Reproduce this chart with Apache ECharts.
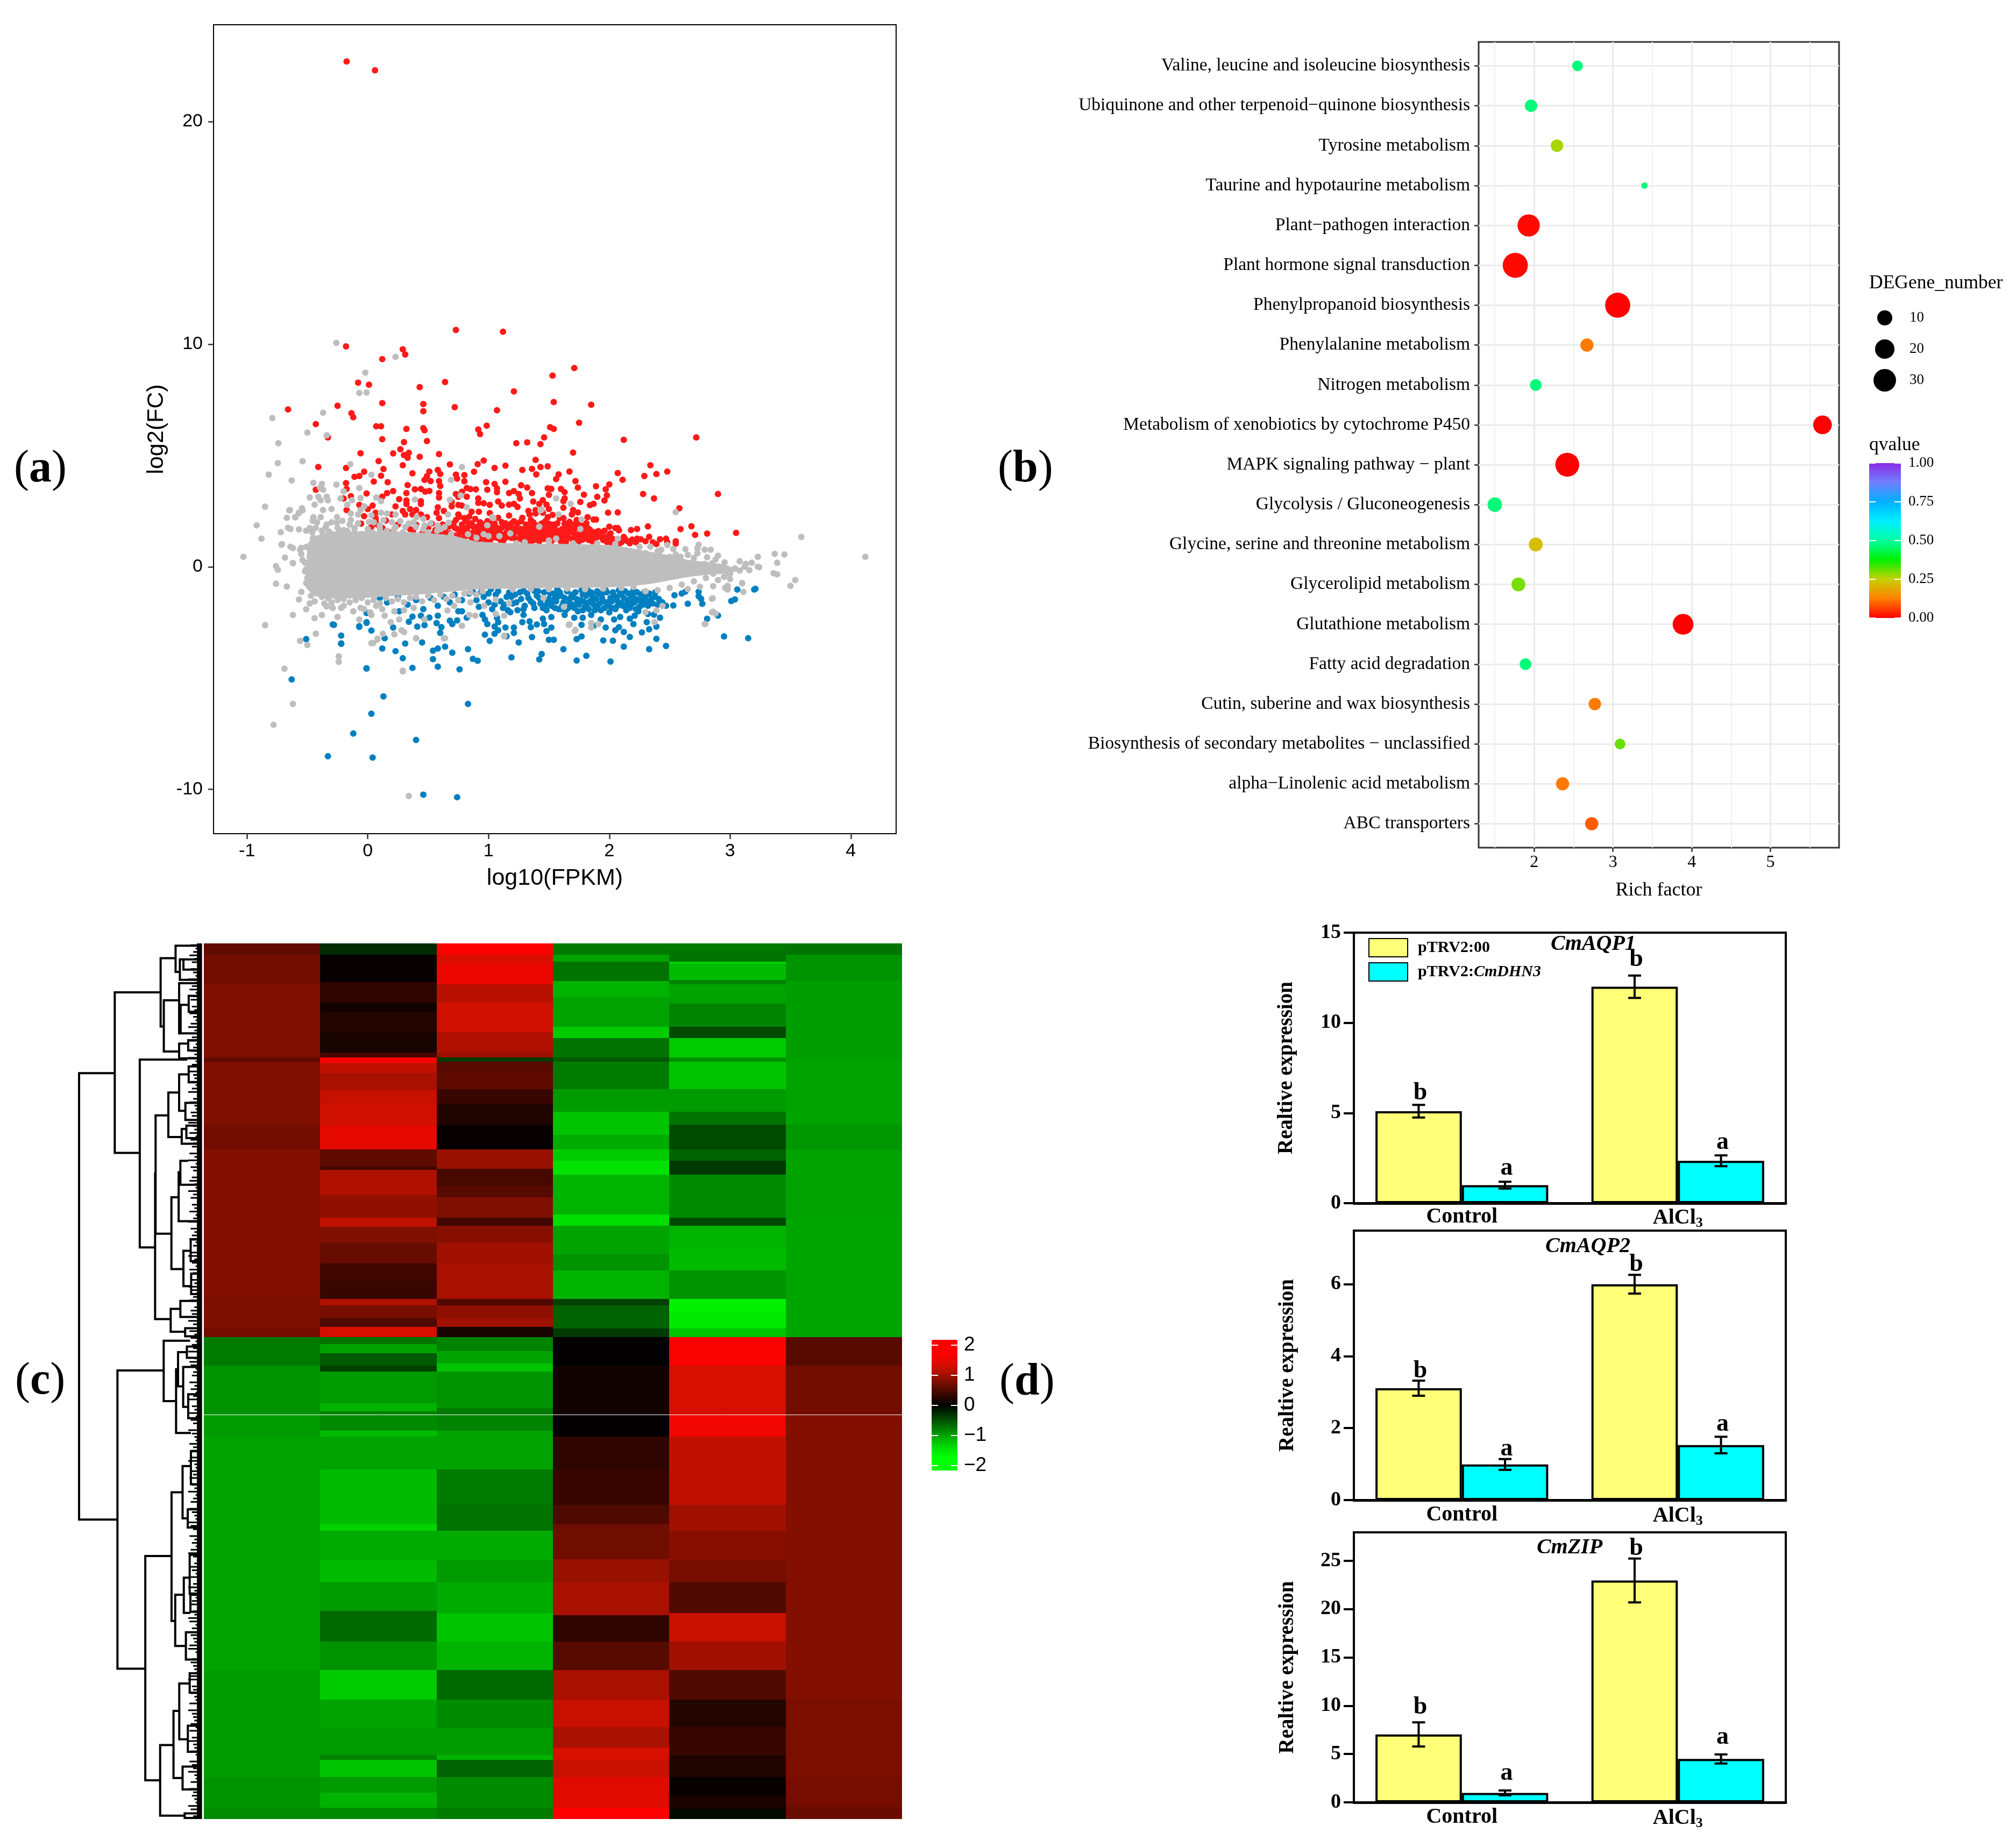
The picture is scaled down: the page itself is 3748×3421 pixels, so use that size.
<!DOCTYPE html>
<html>
<head>
<meta charset="utf-8">
<style>
  html, body { margin: 0; background: #fff; }
  #main { width: 3748px; height: 3421px; }
</style>
<script src="https://cdn.jsdelivr.net/npm/echarts@6/dist/echarts.min.js"></script>
</head>
<body>
<div id="main"></div>
<script>
// ---- panel a: MA plot, [log10(FPKM), log2(FC)]
const maRed = [[-.175,22.7],[.06,22.3],[.73,10.64],[1.12,10.56],[-.18,9.9],[.29,9.77],[.31,9.54],[.12,9.33],[1.71,8.93],[1.53,8.59],
  [-.08,8.27],[.01,8.18],[.43,8.07],[.64,8.3],[1.21,7.88],[.12,7.35],[-.25,7.23],[-.66,7.07],[.46,7.31],[.46,6.99],[.72,7.17],[1.07,7.03],[-.135,6.9],[-.12,6.72],[-.43,6.41],[.07,6.31],[.11,6.31],[.32,6.19],[.46,6.23],[.47,6.13],[.985,6.34],[.915,6.17],[.93,5.96],[-.33,5.81],[.12,5.73],[.49,5.65],[.3,5.6],[1.23,5.55],[1.32,5.59],[.27,5.28],[-.06,5.1],[.21,5.09],[.34,5.12],[.3,5.02],[.33,4.9],[.43,4.94],[.59,5.06],[.09,4.75],[.29,4.56],[.68,4.6],[.96,4.77],[.91,4.61],[-.41,4.48],[-.18,4.44],[.13,4.39],[1.05,4.44],[1.14,4.54],[1.28,4.35],[1.36,4.4],[1.39,4.8],[1.395,4.15],[-.03,4.27],[-.11,4.04],[-.07,4.08],[.11,4.09],[.05,3.83],[.165,3.8],[.37,4.2],[.51,4.28],[.58,4.35],[.6,4.17],[.49,4.07],[.47,3.9],[.52,3.85],[.59,3.85],[.73,4.14],[.74,3.96],[.8,4.12],[.8,3.84],[.88,4.27],[.6,3.63],[.98,3.8],[1.05,3.72],[1.14,3.82],[1.27,3.66],[1.32,3.56],[-.18,3.76],[-.175,3.5],[-.43,3.46],[-.01,3.29],[.16,3.31],[.21,3.4],[.33,3.67],[.39,3.48],[.44,3.5],[.475,3.38],[.51,3.41],[.32,3.31],[.59,3.31],[.59,3.11],[.82,3.54],[.85,3.49],[.895,3.48],[.99,3.46],[1.07,3.52],[1.07,3.35],[.78,3.37],[.73,3.27],[.75,3.14],[.82,3.15],[1.17,3.31],[1.21,3.4],[1.25,3.27],[1.36,3.31],[1.26,3.07],[-.2,3.07],[-.14,3.17],[.12,3.15],[.26,3.04],[.32,2.98],[.44,2.95],[.44,2.82],[.23,2.71],[.32,2.82],[.915,3.07],[.915,2.87],[.96,2.85],[1.01,2.78],[1.08,2.93],[1.37,2.93],[1.11,2.75],[1.17,2.79],[1.21,2.83],[1.24,2.69],[-.07,2.78],[.04,2.75],[0,2.59],[-.175,2.55],[.065,2.43],[.29,2.51],[.35,2.59],[.4,2.55],[.58,2.67],[.57,2.43],[.695,2.91],[.695,2.71],[.75,2.78],[.78,2.75],[.86,2.47],[.92,2.47],[1.01,2.41],[1.33,2.51],[1.39,2.55],[1.39,2.39],[-.03,2.27],[.065,2.19],[.065,2.09],[.15,2.08],[.2,2.35],[.31,2.35],[.37,2.35],[.44,2.35],[.49,2.23],[.63,2.51],[.59,2.19],[.53,1.94],[.75,2.35],[.8,2.19],
  [.17,1.58],[.29,1.46],[.375,1.62],[.53,1.46],[.03,1.8],[-.055,1.94],[.6,1.55],[.64,1.7],[.68,1.5],[.56,1.65],[.4,1.9],[.45,1.5],[.5,1.75],[.55,1.5],[.62,1.9],[.65,1.5],[.67,1.8],[.35,1.7],[.25,1.9],[.12,1.75],[.08,1.9],
  [.71,1.95],[.73,2.1],[.74,1.7],[.76,2.25],[.78,1.9],[.79,1.55],[.81,2.05],[.82,1.75],[.84,2.25],[.85,1.45],[.86,1.95],[.88,1.6],[.89,2.15],[.9,1.3],[.91,1.8],[.93,2],[.94,1.5],[.96,1.75],[.97,1.2],[.99,2.05],[1,1.55],[1.02,1.8],[1.03,1.3],[1.05,1.95],[1.06,1.6],[1.08,2.2],[1.09,1.4],[1.11,1.75],[1.12,1.15],[1.14,1.95],[1.15,1.55],[1.17,2.3],[1.18,1.8],[1.19,1.3],[1.21,2.05],[1.22,1.6],[1.24,1.95],[1.25,1.25],[1.27,1.7],[1.28,2.2],[1.3,1.5],[1.31,1.9],[1.33,1.2],[1.34,2.35],[1.36,1.7],[1.37,2],[1.39,1.4],[1.4,1.85],[.72,1.4],[.8,1.3],[.87,1.15],[.95,1.4],[1.01,1.15],[1.1,1.2],[1.16,1.35],[1.23,1.2],[1.29,1.15],[1.35,1.4],
  [.72,1.75],[.75,1.35],[.77,1.65],[.83,1.55],[.85,1.85],[.9,1.6],[.92,1.2],[.98,1.55],[1.04,1.55],[1.07,1.3],[1.13,1.45],[1.16,1.75],[1.2,1.55],[1.26,1.5],[1.32,1.6],[1.34,1.9],[1.38,1.2],[1.42,1.15],[1.44,1.65],[1.46,1.25],[1.48,1.95],[1.5,1.45],[1.52,1.15],[1.55,1.7],[1.57,1.45],[1.6,1.15],[1.62,1.45],[1.65,1.75],[1.66,1.3],[1.68,1.55],[1.71,1.7],[1.72,1.35],[1.76,1.55],[1.78,1.42],[1.8,1.62],[1.83,1.2],[1.85,1.5],[1.88,1.55],[1.92,1.45],[1.95,1.2],[1.98,1.12],[2.03,1.25],[2.05,1.15],[2.1,1.1],[2.15,1.15],[2.22,1.1],[2.3,1.15],[2.36,1.1],[2.48,1.1],
  [.74,1.25],[.76,1.5],[.78,1.2],[.8,1.7],[.82,1.4],[.84,1.95],[.86,1.3],[.88,1.8],[.91,1.45],[.93,1.7],[.95,1.9],[.97,1.5],[.99,1.3],[1.01,1.7],[1.03,1.95],[1.05,1.4],[1.07,1.75],[1.09,1.55],[1.11,2.0],[1.13,1.25],[1.15,1.85],[1.17,1.5],[1.19,1.95],[1.21,1.35],[1.23,1.75],[1.25,1.55],[1.27,2.05],[1.29,1.35],[1.31,1.7],[1.33,1.45],[1.35,2.1],[1.37,1.55],[1.39,1.8],[1.41,1.3],[1.43,1.75],[1.45,1.5],[1.47,2.05],[1.49,1.6],[1.51,1.3],[1.53,1.8],[1.55,1.25],[1.57,1.95],[1.59,1.5],[1.61,1.3],[1.63,1.65],[1.65,1.4],[1.67,1.85],[1.69,1.25],[1.71,1.5],[1.73,1.75],[1.75,1.15],[1.77,1.85],[1.8,1.3],[1.82,1.75],[1.84,1.4],[1.87,1.25],[1.9,1.4],[1.94,1.5],[1.97,1.3],[2,1.2],
  [1.54,7.4],[1.85,7.28],[1.75,6.47],[1.51,6.27],[1.54,6.19],[1.46,5.81],[1.43,5.51],[2.12,5.7],[2.72,5.81],[1.7,5.13],[2.34,4.56],[1.49,4.51],[1.43,4.48],[1.67,4.28],[1.58,4.15],[1.56,3.94],[2.07,4.21],[2.11,3.91],[2.29,4.08],[2.39,4.17],[2.48,4.28],[1.72,3.85],[1.74,3.56],[1.89,3.62],[2,3.7],[1.97,3.48],[1.49,3.52],[1.52,3.5],[1.6,3.5],[1.63,3.35],[1.79,3.24],[1.98,3.21],[1.9,3.14],[1.96,2.98],[2.28,3.27],[2.37,3.07],[2.9,3.27],[1.5,3.23],[1.63,3.07],[1.62,2.95],[1.76,2.91],[1.87,2.83],[1.84,2.77],[1.45,2.99],[1.42,2.82],[1.48,2.79],[1.5,2.59],[1.62,2.65],[2.58,2.63],[1.7,2.55],[1.69,2.35],[1.74,2.44],[1.99,2.43],[2.07,2.44],[1.53,2.33],[1.45,2.43],[1.49,2.23],[1.59,2.19],[1.62,2.19],[1.82,2.23],[1.87,2.12],[1.89,2.12],[1.81,1.96],[1.67,2.02],[1.73,2.1],[1.54,1.9],[1.5,1.94],[1.44,1.94],[1.63,1.94],[1.7,1.9],[1.74,1.9],[2,1.8],[2.05,1.74],[2.07,1.74],[2.08,1.64],[1.96,1.62],[1.91,1.6],[1.84,1.66],[1.79,1.7],[2.18,1.65],[2.23,1.7],[2.32,1.81],[2.59,1.69],[2.68,1.82],[2.71,1.43],[2.81,1.49],[3.05,1.52],[1.34,1.64],[2.01,1.5],[1.99,1.38],[1.93,1.34],[1.89,1.3],[1.82,1.38],[1.75,1.34],[1.7,1.14],[1.78,1.22],[1.64,1.1],[1.58,1.26],[1.53,1.46],[1.47,1.46],[1.42,1.42],[1.37,1.38],[1.35,1.1],[2.12,1.34],[2.13,1.26],[2.19,1.22],[2.23,1.26],[2.26,1.23],[2.33,1.35],[2.42,1.24],[2.47,1.26],[2.55,1.14],[2.55,1.04],[2.39,1.02],[2.17,1.06],[2.08,1.02],[2.01,1.1],[1.86,1.14],[1.61,1.7],[1.67,1.62],[1.58,1.62],[1.51,1.7],[1.47,1.7],[1.41,1.62]];
const maBlue = [[-.63,-5.06],[.13,-5.82],[.83,-6.16],[.03,-6.6],[-.12,-7.49],[.4,-7.78],[-.33,-8.51],[.04,-8.57],[.46,-10.24],[.74,-10.35],[-.01,-4.56],[-.51,-3.25],[-.22,-3.09],[-.22,-3.46],[-.29,-2.59],[-.07,-2.67],[-.01,-2.49],[3.2,-1.02],[3.06,-1.02],[3.04,-1.47],
  [3.21,-.99],[2.74,-1.12],[2.63,-1.12],[2.6,-1.2],[2.54,-1.28],[2.74,-1.32],[2.76,-1.44],[2.77,-1.66],[2.65,-1.66],[2.53,-1.74],[3.01,-1.54],[2.9,-2.19],[2.81,-2.34],[2.95,-3.13],[3.15,-3.21],[2.42,-2.29],[2.39,-2.69],[2.33,-2.81],[2.27,-2.95],[2.39,-3.24],[2.47,-3.56],[2.33,-3.7],[2.12,-3.59],[2.01,-4.26],[1.81,-4],[1.73,-4.21],[2.03,-3.32],[1.95,-3.31],[2.17,-3.15],[2.12,-2.93],[2.08,-2.71],[2.05,-2.85],[1.77,-3.13],[1.73,-3.25],[1.62,-3.7],[1.54,-3.28],[1.5,-3.28],[1.44,-3.92],[1.42,-4.16],[1.36,-3.16],[1.25,-3.4],[1.19,-4.07],[1.01,-3.33],[.97,-3.05],[1.05,-3.01],[1.08,-2.85],[1.15,-3.12],[1.21,-2.97],[1.14,-2.73],[1.21,-2.73],[1.4,-2.59],[1.35,-2.71],[1.48,-2.89],[1.52,-2.73],[1.77,-2.61],[1.87,-2.65],[1.97,-2.73],[.91,-4.22],[.87,-4.14],[.83,-3.7],[.76,-4.61],[.7,-3.86],[.64,-3.59],[.58,-3.67],[.54,-3.77],[.54,-4.15],[.58,-4.49],[.37,-4.54],[.29,-4.11],[.23,-3.79],[.12,-3.67],[-.01,-4.57],[.31,-3.45],[.45,-3.4],[.14,-3.21],[-.22,-3.44],[.03,-2.86],[-.07,-2.7],[-.01,-2.52],[.21,-2.73],[.41,-2.69],[.47,-2.62],[.6,-2.97],[.61,-2.71],[-.28,-2.61],[-.01,-2.08],[.26,-2],[.34,-2.47],[.37,-2.24],[.44,-2.2],[.51,-2.28],[.58,-2.2],[.57,-2.53],[.68,-2.42],[.7,-2.57],[.74,-2.41],[.82,-2.28],[.75,-2],[.78,-2],[.95,-2.16],[.97,-2.37],[.99,-2.57],[1.08,-2.49],[1.05,-2.69],[1.07,-2.29],[1.18,-2.04],[1.29,-2.16],[1.28,-2.49],[1.34,-2.45],[1.45,-2.33],[1.46,-2.57],[1.52,-2.26],[1.63,-2.16],[1.71,-2.29],[1.78,-2.29],[1.85,-2.16],[1.93,-2.37],[2.04,-2.37],[2.09,-2.25],[2.17,-2.33],[2.2,-2.57],[2.21,-2.2],[2.31,-2.49],[2.32,-2.12],[2.37,-2.15],
  [.1,-1.4],[.16,-1.6],[.25,-1.35],[.33,-1.7],[.4,-1.5],[.46,-1.9],[.52,-1.4],[.58,-1.75],[.63,-1.35],[.68,-1.6],[.72,-1.25],[.78,-1.5],[.84,-1.2],
  [.87,-1.12],[.94,-1.12],[1.02,-1],[1.17,-1.16],[1.29,-1.08],[1.38,-1.08],[1.49,-1.08],[1.57,-1],[.9,-1.5],[.92,-1.8],[.96,-1.35],[1,-1.6],[1.03,-1.9],[1.06,-1.25],[1.1,-1.55],[1.12,-1.85],[1.15,-1.35],[1.2,-1.65],[1.22,-1.25],[1.24,-1.95],[1.27,-1.45],[1.3,-1.75],[1.32,-1.2],[1.35,-1.55],[1.38,-1.85],[1.4,-1.3],[1.43,-1.65],[1.46,-1.15],[1.48,-1.95],[1.5,-1.45],[1.52,-1.75],[1.54,-1.2],[1.56,-1.55],[1.58,-1.9],[1.6,-1.3],[1.62,-1.6],[1.65,-1.1],[1.66,-1.85],[1.68,-1.4],[1.7,-1.7],[1.72,-1.15],[1.74,-2],[1.76,-1.5],[1.78,-1.25],[1.8,-1.8],[1.82,-1.05],[1.84,-1.55],[1.86,-1.3],[1.88,-1.95],[1.9,-1.1],[1.92,-1.65],[1.94,-1.4],[1.96,-1.85],[1.98,-1.15],[2,-2.05],[2.02,-1.55],[2.04,-1.3],[2.06,-1.8],[2.08,-1.05],[2.1,-1.65],[2.12,-1.4],[2.14,-1.95],[2.16,-1.2],[2.18,-1.7],[2.2,-1.05],[2.22,-1.45],[2.24,-2],[2.26,-1.25],[2.28,-1.7],[2.3,-1.5],[2.33,-1.2],[2.36,-1.65],[2.38,-1.35],[2.41,-1.45],[2.44,-1.6],[2.47,-1.75],
  [1,-1.2],[1.05,-1.7],[1.08,-1.1],[1.13,-1.7],[1.16,-1.95],[1.19,-1.35],[1.23,-1.6],[1.26,-1.15],[1.29,-1.9],[1.33,-1.4],[1.37,-1.65],[1.41,-1.1],[1.44,-1.45],[1.47,-1.75],[1.51,-1.2],[1.53,-1.55],[1.55,-1.85],[1.57,-1.35],[1.59,-1.15],[1.61,-1.75],[1.63,-1.4],[1.64,-1.95],[1.67,-1.6],[1.69,-1.25],[1.71,-1.85],[1.73,-1.45],[1.75,-1.7],[1.77,-1.05],[1.79,-1.55],[1.81,-1.3],[1.83,-1.9],[1.85,-1.15],[1.87,-1.7],[1.89,-1.45],[1.91,-1.2],[1.93,-1.95],[1.95,-1.55],[1.97,-1.05],[1.99,-1.75],[2.01,-1.4],[2.03,-1.15],[2.05,-1.9],[2.07,-1.55],[2.09,-1.25],[2.11,-1.75],[2.13,-1.1],[2.15,-1.5],[2.17,-1.85],[2.19,-1.3],[2.21,-1.6],[2.23,-1.15],[2.25,-1.8],[2.27,-1.4],[2.29,-1.15],[2.32,-1.75],[2.35,-1.4],[2.38,-1.15],[2.4,-1.7],
  [1.42,-1.4],[1.45,-1.85],[1.49,-1.6],[1.55,-1.4],[1.6,-1.9],[1.65,-1.5],[1.7,-1.35],[1.74,-1.6],[1.78,-1.95],[1.82,-1.65],[1.86,-1.45],[1.9,-1.8],[1.94,-1.2],[1.98,-1.6],[2.02,-1.85],[2.06,-1.4],[2.1,-1.2],[2.14,-1.7],[2.18,-1.45],[2.22,-1.9],[2.26,-1.55],[2.3,-1.3],[2.34,-1.55]];
const maGray = [[-.26,10.06],[.23,9.43],[-.02,8.72],[-.07,7.81],[-.01,7.83],[-.79,6.68],[-.37,6.92],[-.5,6.03],[-.34,5.91],[-.74,5.55],[-.745,4.66],[-.54,4.74],[-.82,4.14],[-.145,4.61],[.78,4.48],[-.63,3.88],[-.85,2.7],[-.26,3.69],[-.45,3.77],[-.38,3.72],[.03,4.13],[.69,3.9],[-.92,1.86],[-.88,1.26],[-1.03,.45],[-.72,1.55],[-.715,.99],[-.76,.03],[-.745,-.13],[-.76,-.76],[-.67,-.89],[-.62,.16],[-.65,2.54],[-.67,2.2],[-.6,2.22],[-.57,2.41],[-.54,2.54],[-.66,1.75],[-.57,1.68],[-.51,1.62],[-.62,.84],[-.56,.76],[-.51,.89],[-.52,.18],[-.49,-.34],[-.51,-.73],[-.55,-1.13],[-.57,-1.47],[-.62,-2.17],[-.51,-1.91],[-.44,-2.31],[-.38,-2.17],[-.34,-1.78],[-.85,-2.62],[-.56,-3.33],[-.5,-3.51],[-.43,-3.01],[-.24,-4.03],[-.24,-4.27],[-.69,-4.58],[-.62,-6.16],[-.78,-7.1],[.34,-10.3],[.03,-3.43],[.08,-3.27],[.29,-4.66],[.63,-3.22],[1.13,-3.09],[.4,-3.22],[1.72,-2.83],[1.67,-2.59],[2.79,-2.57],[2.85,-2.04],[2.88,-2.1],[2.85,-1.44],[2.98,-.86],[3.1,-.73],[3.23,0],[3.23,.45],[3.13,.13],[3.18,.18],[3.37,.58],[3.45,.55],[3.39,.18],[3.36,-.29],[3.39,-.34],[3.54,-.6],[3.5,-.86],[3.59,1.34],[4.12,.45],[2.55,2.46],[1.68,2.83],[1.56,3.07],[1.43,2.54],[1.03,2.23],[.77,3.2],
  [.39,3.02],[.68,3.01],[.82,2.67],[-.48,3.11],[-.395,3.56],[-.37,3.46],[-.41,3.15],[-.39,2.99],[-.34,3.15],[-.33,2.99],[-.44,2.79],[-.37,2.55],[-.3,2.6],[-.645,2.55],[-.545,2.63],[-.57,2.43],[-.6,2.23],[-.45,2.23],[-.39,2.23],[-.455,2.06],[-.34,1.9],[-.255,2.23],[-.21,2.06],[-.255,1.98],[-.48,1.74],[-.64,1.7],[-.38,1.62],[-.32,1.58],[-.225,3.07],[-.13,2.99],[-.17,2.79],[-.2,3.39],[-.07,3.54],[-.06,3.09],[.07,3.11],[.11,2.95],[-.03,2.71],[-.06,2.55],[-.14,2.39],[-.14,2.1],[-.08,2.35],[.03,2.31],[.11,2.43],[.16,2.39],[.23,2.35],[.405,2.23],[.46,2.15],[.34,1.94],[.665,2.35],[.67,1.98],[1.04,2.19],[.99,1.86],[.605,1.7],[.46,1.7],[-.11,1.74],[.01,2.02],[.1,1.86],[.22,1.7],[.31,1.78],[-.455,1.26],[-.71,1.02],[-.64,.9],[-.55,.85],[-.5,.9],[-.55,.57],[-.62,.17],[-.685,.41],[-.48,.41],[-.5,.17],
  [-.25,-2.25],[-.07,-2.37],[.03,-2.17],[.14,-2.2],[.19,-2.49],[.26,-2.37],[.28,-2.85],[.3,-2.93],[.22,-3.03],[.125,-3.01],[.08,-3.23],[.045,-3.43],[.4,-3.21],[.64,-3.21],[.78,-2.65],[1.13,-3.13],[.29,-4.7],[.89,-2.2],[.84,-2.17],[1.13,-2.2],[1.06,-2.12],[1.665,-2.61],[1.715,-2.88],[1.85,-2.53],[1.85,-2.73],[1.91,-2.57],[2.375,-2.49],[2.39,-1.96],[2.44,-1.76],[2.3,-2.04],[2.855,-1.42],[2.86,-2.02],[2.795,-2.57],[2.86,-.87],[2.96,-.94],[2.98,-1.02],[3.1,-.75],[3.11,-1.13],[1.625,-1.8],[1.455,-1.4],[1.17,-1.64],[-.22,-1.84],[-.06,-1.84],[.07,-1.76],[.47,-2.37],[.66,-1.96],[.85,-1.6],[.715,-1.76],[1.06,-1.48],[.965,-1.76],
  [2.48,.98],[2.53,.8],[2.63,.79],[2.74,.99],[2.73,.83],[2.79,.77],[2.84,.77],[2.73,.61],[2.81,.43],[2.88,.33],[2.955,.2],[3.24,-.02],[3.04,-.07],[3.08,-.17],[3.16,-.15],[2.99,-.31],[2.93,-.03],[2.86,-.31],[2.79,.13],[2.59,.45],[2.65,.53],[2.43,.77],[2.34,.9],[2.3,.61],[2.41,.61],[2.5,.45],[1.44,2.57],[1.58,2.35],[1.77,2.12],[1.42,1.8],[1.76,1.7],[2.07,1.26],[1.5,1.18],[1.56,1.27],
  [-.45,1.3],[-.41,.81],[-.34,1.3],[-.37,1.46],[-.37,1.18],[-.285,1.46],[-.24,1.54],[-.17,1.62],[-.11,1.7],[-.05,1.46],[.04,1.54],[.1,1.7],[.16,1.62],[.23,1.78],[.29,1.54],[.34,1.94],[.4,1.78],[.47,1.86],[.5,1.54],[.575,1.62],[.635,1.78],[.69,1.46],[.83,1.46],[.9,1.3],[.96,1.46],[1,1.38],[1.09,1.38],[1.18,1.5],[1.23,1.06],
  [-.48,.49],[-.485,.17],[-.51,-.11],[-.43,.73],[-.425,-.31],[-.4,-.3],[-.5,-.5],[-.52,-.2],[-.54,.3],[-.47,.6],[-.46,-.7],[-.49,-.85],[-.44,-1],[-.42,-1.2],[-.47,-1.3],[-.38,-1.35],[-.33,-1.4],[-.3,-1.6],[-.25,-1.5],[-.2,-1.45],[-.15,-1.6],[-.1,-1.5],[-.05,-1.4],[0,-1.6],[.05,-1.5],[.1,-1.65],[.15,-1.4],[.2,-1.55],[.25,-1.45],[.3,-1.6],[.35,-1.4],[.4,-1.35],[.45,-1.55],[.5,-1.3],[.55,-1.5],[.6,-1.25],[.65,-1.45],[.7,-1.3],[.75,-1.5],[.8,-1.2],[.85,-1.15],[.9,-1.25],[.95,-1.1],[-.44,-1.55],[-.48,-1.65],[-.36,-1.65],[-.29,-1.85],[-.2,-1.75],[-.12,-2],[-.03,-1.9],[.02,-2.05],[.12,-1.9],[.22,-2],[.3,-1.95],[.38,-1.85],
  [-.46,1.55],[-.43,1.75],[-.35,1.75],[-.3,2],[-.42,2],[-.25,1.75],[-.2,1.65],[-.15,1.9],[-.08,1.95],[0,1.7],[.05,2],[.13,2.1],[.2,2],[.27,2.05],[.38,2],[.52,1.95],[.58,1.85],
  [1.2,-1.02],[1.35,-1],[1.5,-1],[1.65,-.98],[1.8,-1],[1.95,-.98],[2.1,-.95],[2.2,-.9],[1.3,1.1],[1.5,1.08],[1.7,1.05],[1.9,1.05],[2.05,1.02],
  [2.25,.9],[2.4,.7],[2.55,.55],[2.7,.4],[2.85,.15],[2.95,-.05],[3,-.3],[2.8,-.5],[2.7,-.65],[2.6,-.8],[2.5,-.95],[2.4,-1.05],[2.3,-1.1],[2.9,-.6],[2.95,-.45],[3,-.55],[2.75,-.9],[2.65,-1],[3.12,0],[3.08,.25],[2.9,.5]];
// solid middle of the cloud, read as an envelope
const coreX = [-.5,-.45,-.35,-.25,-.1,0,.2,.45,.7,.9,1.2,1.5,1.8,2.05,2.2,2.35,2.5,2.65,2.8,2.95,3.05];
const coreTop = [1,1.35,1.5,1.55,1.58,1.58,1.58,1.52,1.4,1.12,1.04,1.02,1,.95,.8,.65,.5,.3,.2,.1,-.1];
const coreBottom = [-1,-1.25,-1.4,-1.42,-1.4,-1.38,-1.3,-1.22,-1.1,-1,-.97,-.94,-.93,-.9,-.85,-.75,-.6,-.45,-.35,-.3,-.2];

// ---- panel b: KEGG enrichment
const pathways = ['Valine, leucine and isoleucine biosynthesis','Ubiquinone and other terpenoid\u2212quinone biosynthesis','Tyrosine metabolism','Taurine and hypotaurine metabolism','Plant\u2212pathogen interaction','Plant hormone signal transduction','Phenylpropanoid biosynthesis','Phenylalanine metabolism','Nitrogen metabolism','Metabolism of xenobiotics by cytochrome P450','MAPK signaling pathway \u2212 plant','Glycolysis / Gluconeogenesis','Glycine, serine and threonine metabolism','Glycerolipid metabolism','Glutathione metabolism','Fatty acid degradation','Cutin, suberine and wax biosynthesis','Biosynthesis of secondary metabolites \u2212 unclassified','alpha\u2212Linolenic acid metabolism','ABC transporters'];
const richFactor = [2.55,1.96,2.29,3.4,1.93,1.76,3.06,2.67,2.02,5.66,2.42,1.5,2.02,1.8,3.89,1.89,2.77,3.09,2.36,2.73];
const geneNumber = [4,6,6,1,29,40,40,7,5,18,35,9,8,8,24,5,6,4,7,7];
const qValue = [.47,.47,.27,.47,.01,.01,.002,.12,.47,0,0,.47,.22,.3,0,.47,.12,.31,.12,.09];
const legendGenes = [10,20,30];

// ---- panel c: heatmap columns as [last row of the run, z-score]
const heatCol1 = [[10,.6],[36,.72],[100,.8],[104,.6],[159,.8],[181,.72],[311,.82],[338,.78],[346,.72],[371,-.75],[414,-.9],[433,-.95],[638,-1],[733,-.95],[760,-.9],[769,-.85]];
const heatCol2 = [[10,-.25],[34,.05],[52,.3],[60,.12],[78,.22],[96,.15],[100,.45],[105,1.7],[114,1.2],[129,1.05],[141,1.25],[160,1.3],[181,1.5],[196,.6],[199,.4],[221,1.1],[241,.9],[249,1.2],[263,.8],[281,.65],[296,.4],[312,.35],[318,1.1],[329,.75],[337,.5],[346,1.35],[352,-.7],[360,-1],[371,-.55],[376,-.4],[404,-.95],[411,-1.1],[414,-.8],[428,-.85],[433,-1.15],[462,-1],[510,-1.15],[516,-1.3],[542,-1.05],[561,-1.15],[586,-.95],[613,-.65],[638,-.9],[664,-1.25],[689,-1],[713,-.95],[717,-.8],[732,-1.2],[746,-.95],[759,-1.1],[769,-.85]];
const heatCol3 = [[10,1.7],[18,1.4],[36,1.55],[52,1.15],[78,1.3],[96,1.1],[100,.95],[104,-.35],[113,.55],[128,.6],[141,.35],[159,.2],[181,.05],[198,.95],[213,.45],[223,.55],[241,.8],[248,.4],[263,.85],[281,1],[312,1.05],[318,.5],[329,.9],[337,1],[346,.15],[358,-.8],[369,-1],[376,-1.2],[408,-.9],[414,-.75],[428,-.8],[462,-1],[493,-.75],[516,-.7],[542,-1.05],[561,-.95],[588,-1.05],[613,-1.2],[638,-1.1],[664,-.65],[689,-.85],[713,-.95],[717,-1.1],[732,-.6],[759,-.85],[769,-.75]];
const heatCol4 = [[10,-.75],[16,-1],[33,-.7],[47,-1.1],[73,-1],[83,-1.25],[100,-.7],[104,-.55],[128,-.75],[148,-.95],[168,-1.2],[181,-1.05],[191,-1.25],[203,-1.45],[238,-1.1],[248,-1.4],[273,-1],[287,-.9],[312,-1.1],[318,-.4],[338,-.6],[346,-.35],[371,.02],[414,.12],[433,.02],[462,.3],[493,.35],[510,.5],[541,.7],[561,.95],[590,1.05],[613,.3],[638,.55],[664,1.05],[688,1.25],[706,1.05],[717,1.35],[732,1.25],[759,1.45],[769,1.75]];
const heatCol5 = [[6,-.75],[16,-.7],[18,-1.3],[32,-1.15],[36,-.8],[53,-1],[73,-.8],[83,-.45],[100,-1.25],[104,-.9],[128,-1.2],[148,-.95],[159,-.7],[181,-.45],[191,-.6],[203,-.35],[241,-.85],[248,-.45],[268,-1.1],[287,-1.15],[312,-.9],[323,-1.6],[338,-1.5],[346,-1.2],[371,1.7],[414,1.35],[433,1.6],[493,1.2],[516,1],[542,.85],[561,.75],[588,.5],[613,1.25],[638,1],[664,.5],[688,.22],[713,.35],[732,.2],[748,.05],[760,.15],[769,-.05]];
const heatCol6 = [[10,-.72],[33,-.9],[101,-.97],[159,-1],[181,-.92],[243,-1],[346,-1.02],[371,.55],[414,.72],[663,.82],[733,.78],[758,.74],[769,.66]];
const heatColumns = [heatCol1,heatCol2,heatCol3,heatCol4,heatCol5,heatCol6];
const heatTicks = [-2,-1,0,1,2];

// dendrogram: [height, top row, bottom row, height of top child, height of bottom child]
const dendroMerges = [[100,114,506,70.9,68.7],[70.9,43,184,33.5,50.5],[33.5,13,73,21.3,30.9],[21.3,2,25,0,17.8],[17.8,14,32,14.9,0],[14.9,14,23,0,0],[30.9,50,95,18.4,18.4],[18.4,35,79,0,17.2],[17.2,54,79,10.6,0],[10.6,46,60,0,0],[18.4,88,101,11,0],[11,85,94,0,0],
  [50.5,102,267,11.9,38],[38,202,330,37.6,25.3],[37.6,151,255,27.2,24.7],[27.2,131,170,18.4,16.3],[18.4,115,147,10.6,13.3],[10.6,108,122,0,0],[13.3,140,155,0,0],[16.3,163,176,12.5,0],[12.5,160,171,0,0],[24.7,223,286,18.8,14.9],[18.8,201,244,17.4,0],[17.4,191,212,11,0],[14.9,270,301,9,8.6],[9,260,279,0,0],[8.6,290,308,0,0],[25.3,321,341,17.4,13.5],[17.4,314,328,0,0],[13.5,338,345,0,0],
  [68.7,375,637,31,46],[31,349,402,9.5,20.9],[20.9,374,430,19.3,8.8],[19.3,359,389,12.1,15.1],[12.1,354,364,0,0],[15.1,372,407,0,11],[11,396,417,0,0],[46,538,735,24.6,33.9],[24.6,482,595,15.6,21.6],[15.6,459,505,8.8,11.4],[8.8,446,475,0,0],[11.4,497,513,0,0],[21.6,572,617,14.6,12.9],[14.6,557,588,9.8,9.2],[9.8,537,571,0,0],[9.2,572,587,0,0],[12.9,605,629,0,0],[33.9,704,766,23,13.9],[23,674,733,18.3,15.6],[18.3,650,699,9.8,11.3],[9.8,641,658,0,0],[11.3,687,710,0,0],[15.6,723,743,0,0],[13.9,764,768,0,0],
  [.6,0,769,.6,.6],[1.8,0,769,1.8,1.8],[3,0,769,3,3]];
// ragged leaf ends, one every three rows
const dendroTipDepth = [9,5,7,10,6,8,4,9,7,5,11,6,8,10,5,7,9,4,8,6,10,7,5,9,11,6,4,8,10,5,7,9,6,11,5,8,4,10,7,6,9,5,8,11,4,7,10,6,5,9,8,4,11,7,6,10,5,9,7,8,4,10,6,11,5,9,7,4,8,10,6,5,11,7,9,4,8,6,10,5,7,11,4,9,6,8,10,5,7,4,9,11,6,8,5,10,7,4,9,6,11,8,5,7,10,4,6,9,8,5,11,7,4,10,6,9,5,8,7,11,4,6,10,9,5,7,8,4,
  10,6,9,5,7,11,4,8,6,10,5,9,7,4,11,8,6,5,10,7,9,4,8,11,6,5,9,7,10,4,8,6,11,5,7,9,4,10,8,6,5,11,9,7,4,10,6,8,5,9,11,7,4,6,10,8,5,9,4,7,11,6,10,5,8,9,4,7,6,11,10,5,8,4,9,7,6,10,11,5,4,8,9,7,6,5,10,11,4,8,7,9,6,5,10,4,11,8,7,6,9,5,10,4,8,11,7,6,9,5,4,10,8,7,11,6,5,9,4,10,7,8,6,5,11,9,4,7];

// ---- panel d: qPCR bars
const treatments = ['Control','AlCl3'];
const aqp1Empty = [5.1,12], aqp1Dhn3 = [1,2.35], aqp1EmptySd = [.35,.62], aqp1Dhn3Sd = [.19,.3], aqp1EmptyLetterY = [5.7,13.08], aqp1Dhn3LetterY = [1.51,2.95];
const aqp2Empty = [3.11,6], aqp2Dhn3 = [.99,1.53], aqp2EmptySd = [.21,.26], aqp2Dhn3Sd = [.15,.23], aqp2EmptyLetterY = [3.38,6.34], aqp2Dhn3LetterY = [1.21,1.9];
const zipEmpty = [7.03,22.96], zipDhn3 = [.98,4.49], zipEmptySd = [1.25,2.27], zipDhn3Sd = [.25,.47], zipEmptyLetterY = [9.07,25.49], zipDhn3LetterY = [2.2,5.96];
const emptyLetters = ['b','b'], dhn3Letters = ['a','a'];

const SANS = '"Liberation Sans", Arial, sans-serif';
const SERIF = '"Liberation Serif", "Times New Roman", serif';

const grids = [], xAxes = [], yAxes = [], series = [];

function geneSize(n) { return 11.97 * Math.pow(n, 0.369); }

// ---------- panel a
grids.push({ left: 397, top: 46, width: 1269, height: 1504, show: true, borderColor: '#000', borderWidth: 2, backgroundColor: '#fff' });
const maTickStyle = { show: true, length: 10, lineStyle: { color: '#333', width: 2.5 } };
xAxes.push({ gridIndex: 0, type: 'value', min: -1.277, max: 4.375, splitLine: { show: false }, axisLine: { show: false, onZero: false },
  axisTick: Object.assign({ customValues: [-1,0,1,2,3,4] }, maTickStyle),
  axisLabel: { customValues: [-1,0,1,2,3,4], fontFamily: SANS, fontSize: 34, color: '#000', margin: 16 },
  name: 'log10(FPKM)', nameLocation: 'middle', nameGap: 62, nameTextStyle: { fontFamily: SANS, fontSize: 43, color: '#000' } });
yAxes.push({ gridIndex: 0, type: 'value', min: -11.99, max: 24.35, splitLine: { show: false }, axisLine: { show: false, onZero: false },
  axisTick: Object.assign({ customValues: [-10,0,10,20] }, maTickStyle),
  axisLabel: { customValues: [-10,0,10,20], fontFamily: SANS, fontSize: 34, color: '#000', margin: 20, padding: [4, 0, 0, 0] },
  name: 'log2(FC)', nameLocation: 'middle', nameGap: 84, nameTextStyle: { fontFamily: SANS, fontSize: 43, color: '#000' } });
['#ff1a1a', '#0080c0'].forEach((c, i) => {
  series.push({ type: 'scatter', xAxisIndex: 0, yAxisIndex: 0, symbolSize: 12, data: i ? maBlue : maRed, itemStyle: { color: c, opacity: 1 }, silent: true });
});
series.push({ type: 'custom', xAxisIndex: 0, yAxisIndex: 0, silent: true, z: 3,
  data: coreX.map((x, i) => [x, coreTop[i], coreBottom[i]]),
  renderItem: (params, api) => {
    const i = params.dataIndex;
    if (i === coreX.length - 1) return null;
    return { type: 'polygon', shape: { points: [
      api.coord([coreX[i], coreTop[i]]), api.coord([coreX[i + 1], coreTop[i + 1]]),
      api.coord([coreX[i + 1], coreBottom[i + 1]]), api.coord([coreX[i], coreBottom[i]])] },
      style: { fill: '#bebebe', stroke: '#bebebe', lineWidth: 1 } };
  } });
series.push({ type: 'scatter', xAxisIndex: 0, yAxisIndex: 0, symbolSize: 12, data: maGray, itemStyle: { color: '#bebebe', opacity: 1 }, silent: true, z: 3 });

// ---------- panel b
grids.push({ left: 2749, top: 78, width: 670, height: 1498, show: true, borderColor: '#333', borderWidth: 3 });
xAxes.push({ gridIndex: 1, type: 'value', min: 1.295, max: 5.87, axisLine: { show: false, onZero: false },
  axisTick: { show: true, customValues: [2,3,4,5], length: 8, lineStyle: { color: '#333', width: 2.5 } },
  axisLabel: { customValues: [2,3,4,5], fontFamily: SERIF, fontSize: 32, color: '#000', margin: 12 },
  splitLine: { show: true, lineStyle: { color: '#ebebeb', width: 3 } },
  name: 'Rich factor', nameLocation: 'middle', nameGap: 62, nameTextStyle: { fontFamily: SERIF, fontSize: 36, color: '#000' } });
yAxes.push({ gridIndex: 1, type: 'value', inverse: true, min: -0.6, max: 19.6, axisLine: { show: false, onZero: false },
  axisTick: { show: true, customValues: pathways.map((p, i) => i), length: 8, lineStyle: { color: '#333', width: 2.5 } },
  axisLabel: { customValues: pathways.map((p, i) => i), formatter: v => pathways[v], fontFamily: SERIF, fontSize: 33.5, color: '#000', margin: 16, padding: [8, 0, 0, 0] },
  splitLine: { show: true, lineStyle: { color: '#ebebeb', width: 3 } } });
// minor vertical lines
xAxes.push({ gridIndex: 1, type: 'value', min: 1.295, max: 5.87, axisLine: { show: false, onZero: false }, axisLabel: { show: false },
  axisTick: { show: false, customValues: [1.5,2.5,3.5,4.5,5.5] },
  splitLine: { show: true, lineStyle: { color: '#f0f0f0', width: 2 } } });
series.push({ type: 'scatter', xAxisIndex: 1, yAxisIndex: 1, silent: true, z: 4,
  data: richFactor.map((x, i) => [x, i, geneNumber[i], qValue[i]]),
  symbolSize: v => geneSize(v[2]), itemStyle: { opacity: 1 } });
const bubbleSeriesIndex = series.length - 1;

// size legend
grids.push({ left: 3476, top: 562, width: 56, height: 174 });
xAxes.push({ gridIndex: 2, type: 'value', min: -1, max: 1, show: false });
yAxes.push({ gridIndex: 2, type: 'category', inverse: true, position: 'right', data: legendGenes.map(String), axisLine: { show: false }, axisTick: { show: false },
  axisLabel: { fontFamily: SERIF, fontSize: 27, color: '#000', margin: 18 } });
series.push({ type: 'scatter', xAxisIndex: 3, yAxisIndex: 2, silent: true, data: legendGenes.map((g, i) => [0, i, g]), symbolSize: v => geneSize(v[2]), itemStyle: { color: '#000', opacity: 1 } });

// qvalue colour bar ticks, drawn over the visualMap
grids.push({ left: 3475, top: 861, width: 59, height: 288 });
xAxes.push({ gridIndex: 3, type: 'value', show: false, min: 0, max: 1 });
yAxes.push({ gridIndex: 3, type: 'value', min: 0, max: 1, position: 'right', z: 10, axisLine: { show: false, onZero: false }, splitLine: { show: false },
  axisTick: { show: true, inside: true, length: 12, customValues: [0,.25,.5,.75,1], lineStyle: { color: '#fff', width: 2 } },
  axisLabel: { customValues: [0,.25,.5,.75,1], formatter: v => v.toFixed(2), fontFamily: SERIF, fontSize: 27, color: '#000', margin: 14, padding: [4, 0, 0, 0] } });
yAxes.push({ gridIndex: 3, type: 'value', min: 0, max: 1, position: 'left', z: 10, axisLine: { show: false, onZero: false }, splitLine: { show: false }, axisLabel: { show: false },
  axisTick: { show: true, inside: true, length: 12, customValues: [0,.25,.5,.75,1], lineStyle: { color: '#fff', width: 2 } } });

// ---------- panel c
grids.push({ left: 147, top: 1754, width: 228, height: 1628 });
xAxes.push({ gridIndex: 4, type: 'value', min: 0, max: 100, inverse: true, show: false });
yAxes.push({ gridIndex: 4, type: 'value', min: 0, max: 769, inverse: true, show: false });
const dendroX = xAxes.length - 1, dendroY = yAxes.length - 1;
series.push({ type: 'custom', xAxisIndex: dendroX, yAxisIndex: dendroY, silent: true, data: dendroMerges,
  renderItem: (params, api) => {
    const m = dendroMerges[params.dataIndex];
    return { type: 'polyline', shape: { points: [api.coord([m[3], m[1]]), api.coord([m[0], m[1]]), api.coord([m[0], m[2]]), api.coord([m[4], m[2]])] },
      style: { stroke: '#000', lineWidth: 4, fill: null } };
  } });
series.push({ type: 'custom', xAxisIndex: dendroX, yAxisIndex: dendroY, silent: true, data: dendroTipDepth.map((d, i) => [d, 1.5 + i * 3]),
  renderItem: (params, api) => {
    const a = api.coord([0, api.value(1)]), b = api.coord([api.value(0), api.value(1)]);
    return { type: 'line', shape: { x1: a[0], y1: a[1], x2: b[0], y2: b[1] }, style: { stroke: '#000', lineWidth: 3 } };
  } });

grids.push({ left: 379, top: 1754, width: 1298, height: 1628 });
xAxes.push({ gridIndex: 5, type: 'value', min: 0, max: 6, show: false });
yAxes.push({ gridIndex: 5, type: 'value', min: 0, max: 769, inverse: true, show: false });
// one cell per run: [column, first row, last row, z-score]
const heatData = [];
heatColumns.forEach((col, c) => {
  let start = 0;
  col.forEach(run => { heatData.push([c, start, run[0], run[1]]); start = run[0]; });
});
series.push({ type: 'custom', xAxisIndex: xAxes.length - 1, yAxisIndex: yAxes.length - 1, data: heatData, silent: true,
  encode: { x: 0, y: [1, 2] },
  renderItem: (params, api) => {
    const a = api.coord([api.value(0), api.value(1)]), b = api.coord([api.value(0) + 1, api.value(2)]);
    const x = Math.round(a[0]), y = Math.round(a[1]);
    return { type: 'rect', shape: { x, y, width: Math.round(b[0]) - x, height: Math.round(b[1]) - y }, style: { fill: api.visual('color') } };
  },
  markLine: { silent: true, symbol: 'none', label: { show: false }, animation: false, lineStyle: { color: '#fff', width: 1, type: 'solid' }, data: [{ yAxis: 414 }] } });
const heatSeriesIndex = series.length - 1;

// heatmap colour key ticks
grids.push({ left: 1732, top: 2491, width: 48, height: 243 });
xAxes.push({ gridIndex: 6, type: 'value', show: false, min: 0, max: 1 });
yAxes.push({ gridIndex: 6, type: 'value', min: -2.16, max: 2.18, position: 'right', z: 10, axisLine: { show: false, onZero: false }, splitLine: { show: false },
  axisTick: { show: true, inside: true, length: 12, customValues: heatTicks, lineStyle: { color: '#fff', width: 2 } },
  axisLabel: { customValues: heatTicks, formatter: v => String(v).replace('-', '\u2212'), fontFamily: SANS, fontSize: 37, color: '#000', margin: 12 } });
yAxes.push({ gridIndex: 6, type: 'value', min: -2.16, max: 2.18, position: 'left', z: 10, axisLine: { show: false, onZero: false }, splitLine: { show: false }, axisLabel: { show: false },
  axisTick: { show: true, inside: true, length: 12, customValues: heatTicks, lineStyle: { color: '#fff', width: 2 } } });

// ---------- panel d
function barPanel(top, height, yMax, ticks, empty, dhn3, emptySd, dhn3Sd, emptyLetterY, dhn3LetterY, margin, nameGap) {
  const g = grids.length;
  grids.push({ left: 2517, top, width: 803, height, show: true, borderColor: '#000', borderWidth: 4 });
  xAxes.push({ gridIndex: g, type: 'category', data: treatments, axisTick: { show: false }, axisLine: { lineStyle: { color: '#000', width: 5 } },
    axisLabel: { margin, color: '#000', fontFamily: SERIF, fontWeight: 'bold', fontSize: 40,
      formatter: v => v === 'AlCl3' ? 'AlCl{s|3}' : v,
      rich: { s: { fontFamily: SERIF, fontWeight: 'bold', fontSize: 26, padding: [18, 0, 0, 0] } } } });
  yAxes.push({ gridIndex: g, type: 'value', min: 0, max: yMax, splitLine: { show: false }, axisLine: { show: true, lineStyle: { color: '#000', width: 4 } },
    axisTick: { show: true, customValues: ticks, length: 19, lineStyle: { color: '#000', width: 4 } },
    axisLabel: { customValues: ticks, color: '#000', fontFamily: SERIF, fontWeight: 'bold', fontSize: 38, margin: 24 },
    name: 'Realtive expression', nameLocation: 'middle', nameGap, nameTextStyle: { color: '#000', fontFamily: SERIF, fontWeight: 'bold', fontSize: 39 } });
  const xi = xAxes.length - 1, yi = yAxes.length - 1;
  [['pTRV2:00', '#ffff78', empty, emptySd, emptyLetterY, emptyLetters, -0.2], ['pTRV2:CmDHN3', '#00ffff', dhn3, dhn3Sd, dhn3LetterY, dhn3Letters, 0.2]].forEach(s => {
    series.push({ type: 'bar', name: s[0], xAxisIndex: xi, yAxisIndex: yi, data: s[2], barWidth: '40%', barGap: '0%', silent: true,
      itemStyle: { color: s[1], borderColor: '#000', borderWidth: 4 } });
    series.push({ type: 'custom', xAxisIndex: xi, yAxisIndex: yi, silent: true, z: 5,
      data: s[2].map((v, i) => [i, v, s[3][i], s[4][i]]),
      renderItem: (params, api) => {
        const i = api.value(0), m = api.value(1), sd = api.value(2);
        const off = api.size([1, 0])[0] * s[6];
        const up = api.coord([i, m + sd]), dn = api.coord([i, m - sd]), lt = api.coord([i, api.value(3)]);
        const x = up[0] + off;
        const line = (x1, y1, x2, y2) => ({ type: 'line', shape: { x1, y1, x2, y2 }, style: { stroke: '#000', lineWidth: 4 } });
        return { type: 'group', children: [
          line(x, up[1], x, dn[1]), line(x - 12, up[1], x + 12, up[1]), line(x - 12, dn[1], x + 12, dn[1]),
          { type: 'text', x: x + 3, y: lt[1] + 9, style: { text: s[5][i], font: 'bold 46px ' + SERIF, fill: '#000', align: 'center', verticalAlign: 'bottom' } }
        ] };
      } });
  });
}
barPanel(1734, 503, 15, [0,5,10,15], aqp1Empty, aqp1Dhn3, aqp1EmptySd, aqp1Dhn3Sd, aqp1EmptyLetterY, aqp1Dhn3LetterY, 6, 106);
barPanel(2288, 501, 7.49, [0,2,4,6], aqp2Empty, aqp2Dhn3, aqp2EmptySd, aqp2Dhn3Sd, aqp2EmptyLetterY, aqp2Dhn3LetterY, 8, 104);
barPanel(2849, 502, 27.94, [0,5,10,15,20,25], zipEmpty, zipDhn3, zipEmptySd, zipDhn3Sd, zipEmptyLetterY, zipDhn3LetterY, 8, 104);

// fixed text
function note(x, y, text, font, extra) {
  return { type: 'text', x, y, style: Object.assign({ text, font, fill: '#000', verticalAlign: 'middle' }, extra || {}) };
}
function panelTag(x, y, letter) {
  return { type: 'text', x, y, style: { text: '(' + '{b|' + letter + '})', font: '84px ' + SERIF, fill: '#000', verticalAlign: 'middle',
    rich: { b: { fontFamily: SERIF, fontSize: 84, fontWeight: 'bold' } } } };
}
const geneTitle = (x, y, t) => note(x, y, t, 'italic bold 40px ' + SERIF, { align: 'center' });

const chart = echarts.init(document.getElementById('main'));
chart.setOption({
  animation: false,
  backgroundColor: '#fff',
  grid: grids,
  xAxis: xAxes,
  yAxis: yAxes,
  series: series,
  legend: { left: 2544, top: 1744, orient: 'vertical', padding: 0, itemWidth: 72, itemHeight: 34, itemGap: 9, icon: 'rect',
    data: ['pTRV2:00', 'pTRV2:CmDHN3'], selectedMode: false,
    formatter: n => n === 'pTRV2:CmDHN3' ? 'pTRV2:{i|CmDHN3}' : n,
    textStyle: { fontFamily: SERIF, fontWeight: 'bold', fontSize: 30, color: '#000', padding: [0, 0, 0, 14],
      rich: { i: { fontFamily: SERIF, fontStyle: 'italic', fontWeight: 'bold', fontSize: 30 } } } },
  visualMap: [
    { type: 'continuous', seriesIndex: bubbleSeriesIndex, dimension: 3, min: 0, max: 1, left: 3475, top: 861, itemWidth: 59, itemHeight: 288, padding: 0, calculable: false, realtime: false,
      inRange: { color: ['#ff0000','#ff8000','#c8d000','#00f000','#00ffa0','#00f0ff','#00b0ff','#7080ff','#8a2be2'] } },
    { type: 'continuous', seriesIndex: heatSeriesIndex, dimension: 3, min: -2.16, max: 2.18, left: 1732, top: 2491, itemWidth: 48, itemHeight: 243, padding: 0, calculable: false, realtime: false,
      inRange: { color: ['#00ff00','#00ff00','#00d200','#008c00','#004600','#000000','#460800','#8c1000','#d21000','#ff0000','#ff0000'] } }
  ],
  graphic: [
    panelTag(26, 873, 'a'), panelTag(1855, 873, 'b'), panelTag(28, 2569, 'c'), panelTag(1858, 2571, 'd'),
    note(3475, 527, 'DEGene_number', '35.5px ' + SERIF), note(3475, 828, 'qvalue', '35.5px ' + SERIF),
    geneTitle(2962, 1756, 'CmAQP1'), geneTitle(2952, 2318, 'CmAQP2'), geneTitle(2918, 2878, 'CmZIP')
  ]
});
</script>
</body>
</html>
